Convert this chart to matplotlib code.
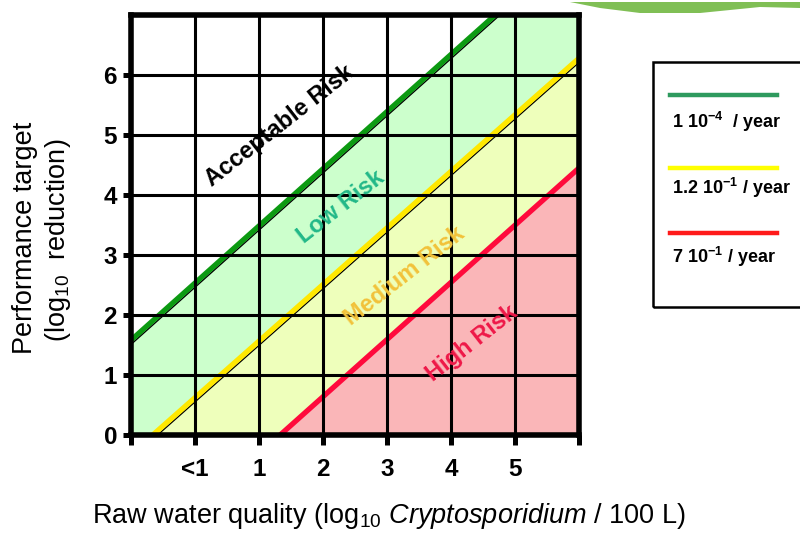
import numpy as np
import matplotlib
matplotlib.use('Agg')
import matplotlib.pyplot as plt
from matplotlib import transforms
from matplotlib.patches import Rectangle, Polygon
from matplotlib.lines import Line2D

plt.rcParams['font.family'] = ['Liberation Sans', 'DejaVu Sans']
plt.rcParams['mathtext.fontset'] = 'custom'
plt.rcParams['mathtext.rm'] = 'Liberation Sans'
plt.rcParams['mathtext.it'] = 'Liberation Sans:italic'
plt.rcParams['mathtext.bf'] = 'Liberation Sans:bold'

# ---- data ----
x_ticks = [0, 1, 2, 3, 4, 5, 6, 7]
x_tick_labels = ['', '<1', '1', '2', '3', '4', '5', '']
y_ticks = [0, 1, 2, 3, 4, 5, 6]
y_tick_labels = ['0', '1', '2', '3', '4', '5', '6']

# risk boundary lines: two points each (grid position, log10 reduction)
green_x = [0.0, 5.69]
green_y = [1.58, 7.0]
yellow_x = [0.34, 7.0]
yellow_y = [0.0, 6.28]
red_x = [2.33, 7.0]
red_y = [0.0, 4.45]

zone_labels = ['Acceptable Risk', 'Low Risk', 'Medium Risk', 'High Risk']
zone_label_x = [2.32, 3.28, 4.28, 5.33]
zone_label_y = [5.15, 3.8, 2.65, 1.53]
zone_label_colors = ['#000000', '#22b888', '#f2c23a', '#ee1848']

legend_labels = [r'1 10$^{\mathbf{-4}}$  / year',
                 r'1.2 10$^{\mathbf{-1}}$ / year',
                 r'7 10$^{\mathbf{-1}}$ / year']
legend_colors = ['#2e9a5e', '#ffff00', '#ff1a1a']

# ---- figure ----
W, H = 800, 533
fig = plt.figure(figsize=(8, 5.33), dpi=100)
ax = fig.add_axes([131 / W, 1 - 435 / H, (579 - 131) / W, (435 - 15) / H])
ax.set_xlim(0, 7)
ax.set_ylim(0, 7)


def line_vals(xs, ys, xx):
    slope = (ys[1] - ys[0]) / (xs[1] - xs[0])
    return ys[0] + slope * (xx - xs[0])


xx = np.linspace(-0.5, 7.5, 400)
gy = line_vals(green_x, green_y, xx)
yy = line_vals(yellow_x, yellow_y, xx)
ry = line_vals(red_x, red_y, xx)

ax.fill_between(xx, yy, gy, color='#ccffcc', lw=0, zorder=1)
ax.fill_between(xx, ry, yy, color='#eeffbb', lw=0, zorder=1)
ax.fill_between(xx, -1, ry, color='#fab6b8', lw=0, zorder=1)

shadow = transforms.offset_copy(ax.transData, fig=fig, x=1.8, y=-2.6, units='dots')
ax.plot(xx, gy, color='k', lw=1.0, transform=shadow, zorder=2)
ax.plot(xx, yy, color='k', lw=1.0, transform=shadow, zorder=2)
ax.plot(xx, gy, color='#0c9a12', lw=3.8, zorder=2.1)
ax.plot(xx, yy, color='#ffe800', lw=3.8, zorder=2.1)
ax.plot(xx, ry, color='#ff0a3c', lw=3.8, zorder=2.1)

ax.set_xticks(x_ticks)
ax.set_xticklabels(x_tick_labels, fontsize=17.5, fontweight='bold')
ax.set_yticks(y_ticks)
ax.set_yticklabels(y_tick_labels, fontsize=17.5, fontweight='bold')
ax.grid(True, color='k', lw=2.2)
ax.set_axisbelow(False)
for s in ax.spines.values():
    s.set_linewidth(4)
    s.set_zorder(5)
ax.tick_params(axis='x', length=7.5, width=3.6, pad=9, direction='out')
ax.tick_params(axis='y', length=6, width=3.6, pad=4, direction='out')

for lab, lx, ly, lc in zip(zone_labels, zone_label_x, zone_label_y, zone_label_colors):
    ax.text(lx, ly, lab, color=lc, fontsize=17, fontweight='bold', rotation=38,
            ha='center', va='center', rotation_mode='anchor', zorder=6)

fig.text(25 / W, 1 - 238 / H, 'Performance target', rotation=90,
         ha='center', va='center', fontsize=19.5)
fig.text(58 / W, 1 - 240 / H, r'(log$_{10}$  reduction)', rotation=90,
         ha='center', va='center', fontsize=19.5)
fig.text(389 / W, 1 - 516 / H,
         r'Raw water quality (log$_{10}$ $\mathit{Cryptosporidium}$ / 100 L)',
         ha='center', va='center', fontsize=19.5)

# legend box
fig.add_artist(Rectangle((653 / W, 1 - 307 / H), (815 - 653) / W, (307 - 62) / H,
                         fill=False, lw=1.8, ec='k', transform=fig.transFigure))
leg_line_y = [95, 168, 233]
leg_text_y = [122, 188, 257]
for lab, col, ly, ty in zip(legend_labels, legend_colors, leg_line_y, leg_text_y):
    fig.add_artist(Line2D([670 / W, 777 / W], [1 - ly / H] * 2, color=col, lw=3.2,
                          transform=fig.transFigure))
    fig.text(672 / W, 1 - ty / H, lab, fontsize=13, fontweight='bold',
             ha='left', va='center')

# decorative swoosh at top right
sw_px = [(570, 2), (800, 2), (800, 8), (760, 7), (700, 13), (640, 13), (600, 8)]
fig.add_artist(Polygon([(px / W, 1 - py / H) for px, py in sw_px], closed=True,
                       fc='#80bf55', ec='none', transform=fig.transFigure))

fig.savefig('out.png', dpi=100)
